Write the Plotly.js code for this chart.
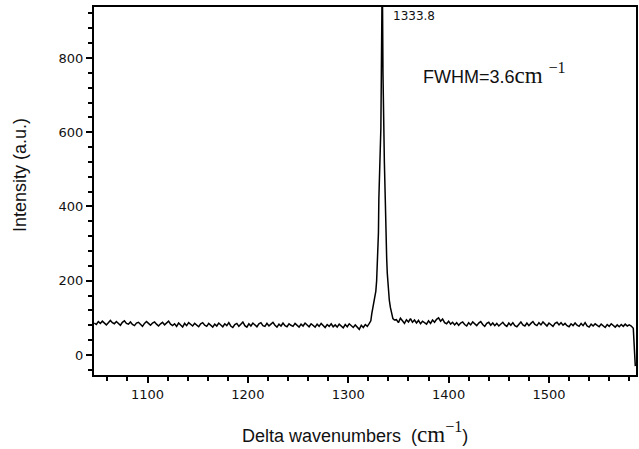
<!DOCTYPE html>
<html>
<head>
<meta charset="utf-8">
<script src="https://cdn.plot.ly/plotly-3.0.1.min.js"></script>
<style>html,body{margin:0;padding:0;background:#fff;}#chart{width:639px;height:449px;}</style>
</head>
<body>
<div id="chart"></div>
<script>
// Raman spectrum: baseline left of the peak
const leftX = [
1047,1049,1051,1053,1055,1057,1059,1061,1063,1065,
1067,1069,1071,1073,1075,1077,1079,1081,1083,1085,
1087,1089,1091,1093,1095,1097,1099,1101,1103,1105,
1107,1109,1111,1113,1115,1117,1119,1121,1123,1125,
1127,1129,1131,1133,1135,1137,1139,1141,1143,1145,
1147,1149,1151,1153,1155,1157,1159,1161,1163,1165,
1167,1169,1171,1173,1175,1177,1179,1181,1183,1185,
1187,1189,1191,1193,1195,1197,1199,1201,1203,1205,
1207,1209,1211,1213,1215,1217,1219,1221,1223,1225,
1227,1229,1231,1233,1235,1237,1239,1241,1243,1245,
1247,1249,1251,1253,1255,1257,1259,1261,1263,1265,
1267,1269,1271,1273,1275,1277,1279,1281,1283,1285,
1287,1289,1291,1293,1295,1297,1299,1301,1303,1305,
1307,1309,1311,1313,1315,1317,1319,1321];
const leftY = [
86,82,90,85,91,86,81,87,93,87,
84,90,85,80,88,92,85,83,89,82,
79,86,88,81,77,85,90,85,80,86,
89,83,78,84,88,81,87,91,83,79,
84,77,86,80,75,85,79,87,81,78,
85,79,76,84,87,80,77,85,79,75,
83,78,86,80,76,84,79,87,78,74,
82,85,77,83,89,79,75,84,78,86,
82,76,84,87,79,77,85,78,83,88,
80,75,83,78,86,79,76,84,80,77,
85,79,75,83,78,86,80,76,84,79,
75,83,77,85,79,74,82,77,84,76,
81,75,83,77,73,82,76,84,78,74,
81,75,69,80,74,82,77,85];
// Diamond peak at 1333.8
const peakX = [1322.5,1323.5,1324.5,1325.5,1326.5,1327.5,1328.3,1329,1329.6,1330.1,
1330.5,1331.5,1332.5,1333,1333.4,1333.8,1334.2,1334.6,1335,1336,
1336.9,1337.5,1338.3,1338.9,1339.8,1340.9,1342,1343.3,1344.5,1346];
const peakY = [92,112,125,138,150,172,200,240,285,330,
420,515,610,760,900,1010,930,760,630,520,
420,320,260,220,180,148,128,115,98,94];
// Baseline right of the peak
const rightX = [
1348,1350,1352,1354,1356,1358,1360,1362,1364,1366,
1368,1370,1372,1374,1376,1378,1380,1382,1384,1386,
1388,1390,1392,1394,1396,1398,1400,1402,1404,1406,
1408,1410,1412,1414,1416,1418,1420,1422,1424,1426,
1428,1430,1432,1434,1436,1438,1440,1442,1444,1446,
1448,1450,1452,1454,1456,1458,1460,1462,1464,1466,
1468,1470,1472,1474,1476,1478,1480,1482,1484,1486,
1488,1490,1492,1494,1496,1498,1500,1502,1504,1506,
1508,1510,1512,1514,1516,1518,1520,1522,1524,1526,
1528,1530,1532,1534,1536,1538,1540,1542,1544,1546,
1548,1550,1552,1554,1556,1558,1560,1562,1564,1566,
1568,1570,1572,1574,1576,1578,1580,1582,1584,1585,1586];
const rightY = [
95,87,99,92,85,95,89,98,88,94,
86,93,84,91,87,83,92,85,94,88,
96,100,91,97,87,84,91,83,88,81,
87,80,86,89,82,78,87,81,89,83,
79,86,90,82,77,85,88,80,86,79,
85,78,84,88,81,77,86,80,87,79,
76,84,89,81,78,86,79,85,90,82,
79,87,81,89,83,78,86,80,77,85,
88,81,87,80,85,79,76,84,79,86,
80,77,85,79,87,78,75,83,78,84,
81,76,83,78,74,82,77,84,78,75,
81,76,82,77,83,78,81,78,72,10,-30];

const xTickVals = [1100,1200,1300,1400,1500];
const yTickVals = [0,200,400,600,800];
const peakLabel = "1333.8";
const peakPos = 1333.8;

const xs = leftX.concat(peakX, rightX);
const ys = leftY.concat(peakY, rightY);

const trace = {
  x: xs, y: ys, type: 'scatter', mode: 'lines',
  line: {color: '#000', width: 1.5}, hoverinfo: 'skip', cliponaxis: true
};

const axisCommon = {
  showline: true, linecolor: '#000', linewidth: 2, mirror: true,
  showgrid: false, zeroline: false,
  ticks: 'outside', ticklen: 6, tickwidth: 2, tickcolor: '#000',
  tickfont: {family: 'DejaVu Sans', size: 13, color: '#111'},
};

const layout = {
  width: 639, height: 449,
  margin: {l: 94, r: 3, t: 7, b: 74},
  paper_bgcolor: '#fff', plot_bgcolor: '#fff',
  showlegend: false,
  xaxis: Object.assign({}, axisCommon, {
    range: [1046.7, 1586.7], tickmode: 'array', tickvals: xTickVals,
    ticktext: xTickVals.map(String),
    minor: {dtick: 20, tick0: 1100, ticks: 'outside', ticklen: 4, tickwidth: 2, tickcolor: '#000', showgrid: false}
  }),
  yaxis: Object.assign({}, axisCommon, {
    range: [-54, 937.4], tickmode: 'array', tickvals: yTickVals,
    ticktext: yTickVals.map(String),
    minor: {dtick: 40, tick0: 0, ticks: 'outside', ticklen: 4, tickwidth: 2, tickcolor: '#000', showgrid: false}
  }),
  annotations: [
    {x: peakPos, y: 1, xref: 'x', yref: 'paper', xanchor: 'left', yanchor: 'top',
     xshift: 9, yshift: 0, showarrow: false, text: peakLabel,
     font: {family: 'DejaVu Sans', size: 12, color: '#111'}},
    {x: 0.603, y: 0.82, xref: 'paper', yref: 'paper', xanchor: 'left', yanchor: 'middle',
     showarrow: false,
     text: "FWHM=3.6<span style='font-family:Liberation Serif;font-size:23px'>cm&nbsp;<sup>\u22121</sup></span>",
     font: {family: 'Liberation Sans, Arial', size: 18, color: '#111'}},
    {x: 0.2694, y: -0.155, xref: 'paper', yref: 'paper', xanchor: 'left', yanchor: 'middle',
     showarrow: false,
     text: "Delta wavenumbers&nbsp; (<span style='font-family:Liberation Serif;font-size:23px'>cm<sup>\u22121</sup></span>)",
     font: {family: 'Liberation Sans, Arial', size: 18, color: '#111'}},
    {x: -0.1365, y: 0.5435, xref: 'paper', yref: 'paper', xanchor: 'center', yanchor: 'middle',
     showarrow: false, textangle: -90, text: "Intensity (a.u.)",
     font: {family: 'Liberation Sans, Arial', size: 18, color: '#111'}}
  ]
};

Plotly.newPlot('chart', [trace], layout, {staticPlot: true, displayModeBar: false});
</script>
</body>
</html>
